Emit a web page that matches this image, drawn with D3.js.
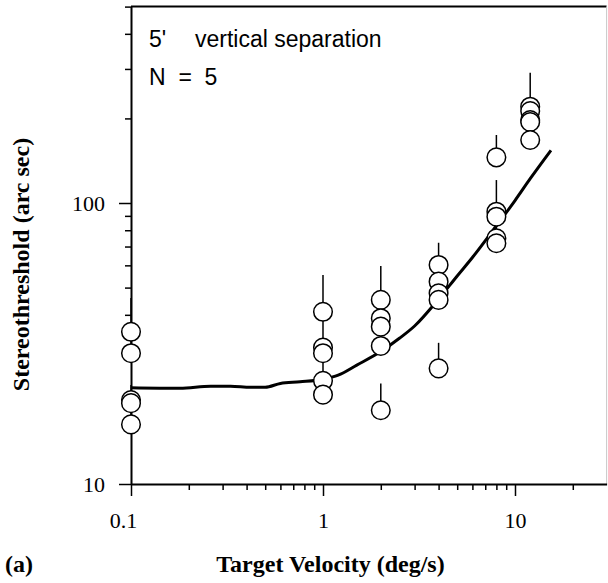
<!DOCTYPE html>
<html>
<head>
<meta charset="utf-8">
<script src="https://cdn.jsdelivr.net/npm/d3@7"></script>
<style>
  html, body { margin: 0; padding: 0; background: #fff; }
  svg { display: block; }
</style>
</head>
<body>
<svg id="chart" width="608" height="583"></svg>
<script>
// ---- data ----
const velocities = [0.1, 1, 2, 4, 8, 12];
// thresholds (arc sec) per velocity, one array per velocity column
const thr_0_1 = [34.8, 29.2, 19.9, 19.4, 16.3];
const thr_1   = [41.0, 30.6, 29.2, 23.3, 20.8];
const thr_2   = [45.2, 38.9, 36.3, 31.0, 18.3];
const thr_4   = [60.2, 52.5, 47.7, 45.2, 25.8];
const thr_8   = [145.4, 93.1, 89.4, 74.9, 71.9];
const thr_12  = [220.2, 212.5, 197.4, 194.2, 167.6];
// upper ends of the (one-sided) error bars
const err_0_1 = [45.9, 33.0, 22.5, 21.5, 18.5];
const err_1   = [55.4, 38.5, 29.5, 27.2, 22.5];
const err_2   = [59.7, 44.0, 39.0, 35.0, 22.8];
const err_4   = [72.2, 59.0, 51.0, 47.0, 31.8];
const err_8   = [174.6, 120.7, 92.0, 88.0, 74.0];
const err_12  = [291.0, 219.0, 210.0, 196.0, 192.0];
// fitted curve
const curveX = [0.1, 0.18, 0.26, 0.33, 0.42, 0.5, 0.6, 0.76, 1.0, 1.2, 1.5, 2.0, 2.5, 3.0, 4.0, 5.0, 6.0, 8.0, 10, 12, 15.4];
const curveY = [22.0, 21.9, 22.3, 22.3, 22.1, 22.1, 22.8, 23.1, 23.6, 24.4, 26.5, 29.6, 33.0, 36.5, 45.5, 55, 64, 83, 102, 122, 154];
// ticks
const xMajor = [0.1, 1, 10];
const xMajorLabels = ["0.1", "1", "10"];
const xMinor = [0.2,0.3,0.4,0.5,0.6,0.7,0.8,0.9,2,3,4,5,6,7,8,9,20];
const yMajor = [10, 100];
const yMajorLabels = ["10", "100"];
const yMinor = [20,30,40,50,60,70,80,90,200,300,400,500];

const thrCols = [thr_0_1, thr_1, thr_2, thr_4, thr_8, thr_12];
const errCols = [err_0_1, err_1, err_2, err_4, err_8, err_12];
const points = [];
velocities.forEach((v, i) => thrCols[i].forEach((t, j) => points.push({v, t, hi: errCols[i][j]})));

// ---- layout ----
const svg = d3.select("#chart");
const x = d3.scaleLog().domain([0.1, 30]).range([131, 606.6]);
const y = d3.scaleLog().domain([10, 500]).range([484, 6.6]);
const serif = "'Liberation Serif', 'Times New Roman', serif";
const sans = "'Liberation Sans', Arial, Helvetica, sans-serif";

// frame (top + right)
svg.append("line").attr("x1", x(0.1)).attr("x2", x(30)).attr("y1", y(500)).attr("y2", y(500))
  .attr("stroke", "#000").attr("stroke-width", 2);
svg.append("line").attr("x1", x(30)).attr("x2", x(30)).attr("y1", y(500)).attr("y2", y(10))
  .attr("stroke", "#c8c8c8").attr("stroke-width", 1);

// x axis
const gxMinor = svg.append("g").attr("transform", `translate(0,${y(10)})`)
  .call(d3.axisBottom(x).tickValues(xMinor).tickSize(6).tickSizeOuter(0).tickFormat(""));
gxMinor.select(".domain").remove();
const gx = svg.append("g").attr("transform", `translate(0,${y(10)})`)
  .call(d3.axisBottom(x).tickValues(xMajor).tickSize(12).tickSizeOuter(0)
    .tickFormat((d, i) => xMajorLabels[i]));
gx.selectAll("text").attr("dy", null).attr("y", 44)
  .attr("dx", (d, i) => i === 0 ? -8 : 0)
  .attr("font-family", serif).attr("font-size", 22).attr("fill", "#000");

// y axis
const gyMinor = svg.append("g").attr("transform", `translate(${x(0.1)},0)`)
  .call(d3.axisLeft(y).tickValues(yMinor).tickSize(6).tickSizeOuter(0).tickFormat(""));
gyMinor.select(".domain").remove();
const gy = svg.append("g").attr("transform", `translate(${x(0.1)},0)`)
  .call(d3.axisLeft(y).tickValues(yMajor).tickSize(12).tickSizeOuter(0)
    .tickFormat((d, i) => yMajorLabels[i]));
gy.selectAll("text").attr("x", -26).attr("dy", "0.34em")
  .attr("font-family", serif).attr("font-size", 22).attr("fill", "#000");

svg.selectAll(".domain").attr("stroke", "#000").attr("stroke-width", 2);
svg.selectAll(".tick line").attr("stroke", "#000").attr("stroke-width", 1.5);

// fitted curve
const line = d3.line().x(d => x(d[0])).y(d => y(d[1])).curve(d3.curveMonotoneX);
svg.append("path").datum(curveX.map((v, i) => [v, curveY[i]]))
  .attr("d", line).attr("fill", "none").attr("stroke", "#000").attr("stroke-width", 3)
  .attr("stroke-linejoin", "round");

// error bars
svg.append("g").selectAll("line").data(points).join("line")
  .attr("x1", d => x(d.v)).attr("x2", d => x(d.v))
  .attr("y1", d => y(d.t)).attr("y2", d => y(d.hi))
  .attr("stroke", "#000").attr("stroke-width", 1.5);

// points
svg.append("g").selectAll("circle").data(points).join("circle")
  .attr("cx", d => x(d.v)).attr("cy", d => y(d.t)).attr("r", 9.3)
  .attr("fill", "#fff").attr("stroke", "#000").attr("stroke-width", 1.5);

// annotations
const t1 = svg.append("text").attr("x", 149).attr("y", 47)
  .attr("font-family", sans).attr("font-size", 23).attr("fill", "#000");
t1.append("tspan").text("5'");
t1.append("tspan").attr("x", 195).text("vertical separation");
svg.append("text").attr("x", 149).attr("y", 85).style("white-space", "pre")
  .attr("font-family", sans).attr("font-size", 23).attr("fill", "#000")
  .text("N  =  5");

// axis titles
svg.append("text").attr("x", 330.5).attr("y", 572).attr("text-anchor", "middle")
  .attr("font-family", serif).attr("font-weight", "bold").attr("font-size", 24)
  .text("Target Velocity (deg/s)");
svg.append("text").attr("x", 5).attr("y", 572)
  .attr("font-family", serif).attr("font-weight", "bold").attr("font-size", 24)
  .text("(a)");
svg.append("text").attr("transform", "translate(29,264.5) rotate(-90)").attr("text-anchor", "middle")
  .attr("font-family", serif).attr("font-weight", "bold").attr("font-size", 24)
  .text("Stereothreshold (arc sec)");
</script>
</body>
</html>
